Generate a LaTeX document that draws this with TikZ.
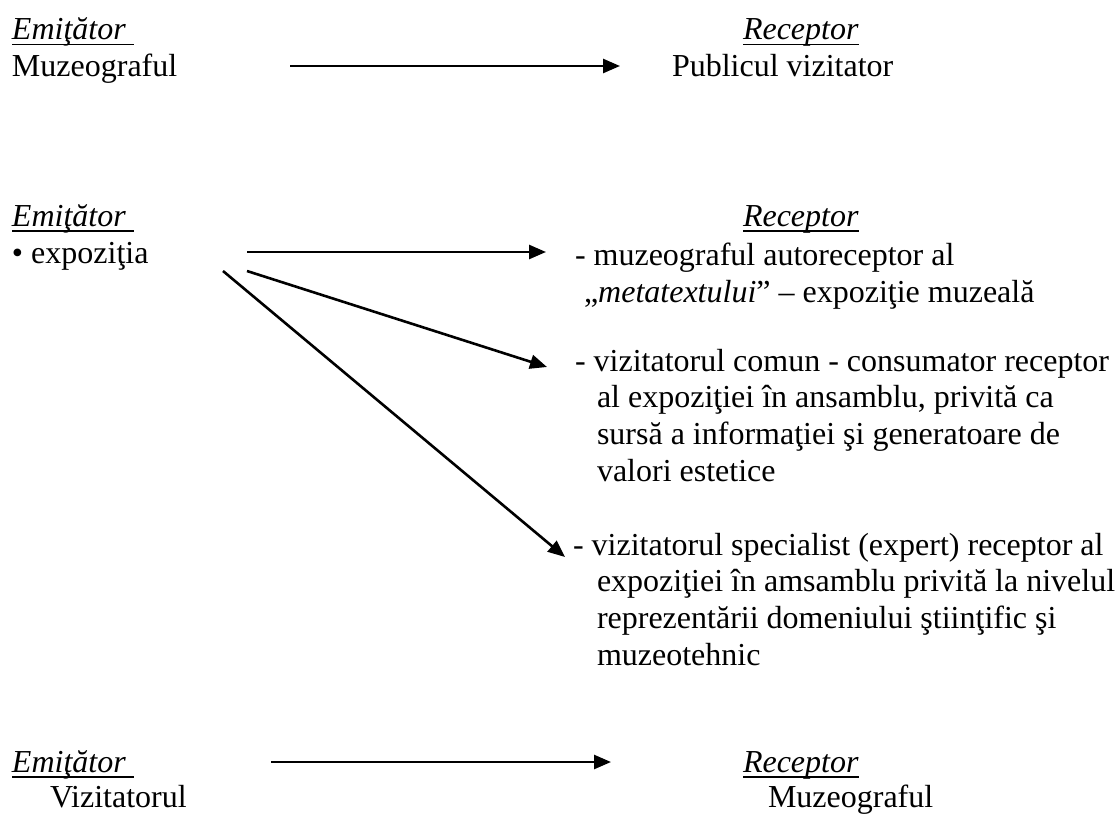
\documentclass[tikz,border=0pt]{standalone}
\usepackage{fontspec}
\setmainfont{Liberation Serif}
\usetikzlibrary{arrows.meta}
\tikzset{
  txt/.style={anchor=base west, inner sep=0pt, outer sep=0pt, font=\fontsize{32}{36.8}\selectfont},
  arr/.style={line width=2.6pt, -{Triangle[length=17pt,width=14pt]}},
  ul/.style={line width=1.8pt}
}
\begin{document}
\begin{tikzpicture}[x=1pt,y=-1pt]
\useasboundingbox (0,0) rectangle (1118,816);
% ---- section 1
\node[txt] (e1) at (12,39.8) {\textit{Emiţător}};
\node[txt] (s1) at (12,76.6) {Muzeograful};
\node[txt] (r1) at (743,39.8) {\textit{Receptor}};
\node[txt] (p1) at (672,76.6) {Publicul vizitator};
\draw[ul] ([yshift=-4.7pt]e1.base west) -- ([yshift=-4.7pt,xshift=8pt]e1.base east);
\draw[ul] ([yshift=-4.7pt]r1.base west) -- ([yshift=-4.7pt]r1.base east);
\coordinate (a1s) at (290,66);
\coordinate (a1e) at (620,66);
\draw[arr] (a1s) -- (a1e);
% ---- section 2
\node[txt] (e2) at (12,226) {\textit{Emiţător}};
\node[txt] (s2) at (12,263) {• expoziţia};
\node[txt] (r2) at (743,226) {\textit{Receptor}};
\draw[ul] ([yshift=-4.7pt]e2.base west) -- ([yshift=-4.7pt,xshift=8pt]e2.base east);
\draw[ul] ([yshift=-4.7pt]r2.base west) -- ([yshift=-4.7pt]r2.base east);
\node[txt] (b1a) at (575,265) {- muzeograful autoreceptor al};
\node[txt] (b1b) at (584,302) {„\textit{metatextului}” – expoziţie muzeală};
\node[txt] (b2a) at (575,371) {- vizitatorul comun - consumator receptor};
\node[txt] (b2b) at (597,407.8) {al expoziţiei în ansamblu, privită ca};
\node[txt] (b2c) at (597,444.6) {sursă a informaţiei şi generatoare de};
\node[txt] (b2d) at (597,481.4) {valori estetice};
\node[txt] (b3a) at (573,555) {- vizitatorul specialist (expert) receptor al};
\node[txt] (b3b) at (597,591.8) {expoziţiei în amsamblu privită la nivelul};
\node[txt] (b3c) at (597,628.6) {reprezentării domeniului ştiinţific şi};
\node[txt] (b3d) at (597,665.4) {muzeotehnic};
\coordinate (aas) at (247,252);
\coordinate (aae) at (546,252);
\coordinate (abs) at (247,271);
\coordinate (abe) at (547,367);
\coordinate (acs) at (223,271);
\coordinate (ace) at (565,557);
\draw[arr] (aas) -- (aae);
\draw[arr] (abs) -- (abe);
\draw[arr] (acs) -- (ace);
% ---- section 3
\node[txt] (e3) at (12,772) {\textit{Emiţător}};
\node[txt] (s3) at (50,807) {Vizitatorul};
\node[txt] (r3) at (743,772) {\textit{Receptor}};
\node[txt] (p3) at (768,807) {Muzeograful};
\draw[ul] ([yshift=-4.7pt]e3.base west) -- ([yshift=-4.7pt,xshift=8pt]e3.base east);
\draw[ul] ([yshift=-4.7pt]r3.base west) -- ([yshift=-4.7pt]r3.base east);
\coordinate (a3s) at (271,762);
\coordinate (a3e) at (611,762);
\draw[arr] (a3s) -- (a3e);
\end{tikzpicture}
\end{document}
